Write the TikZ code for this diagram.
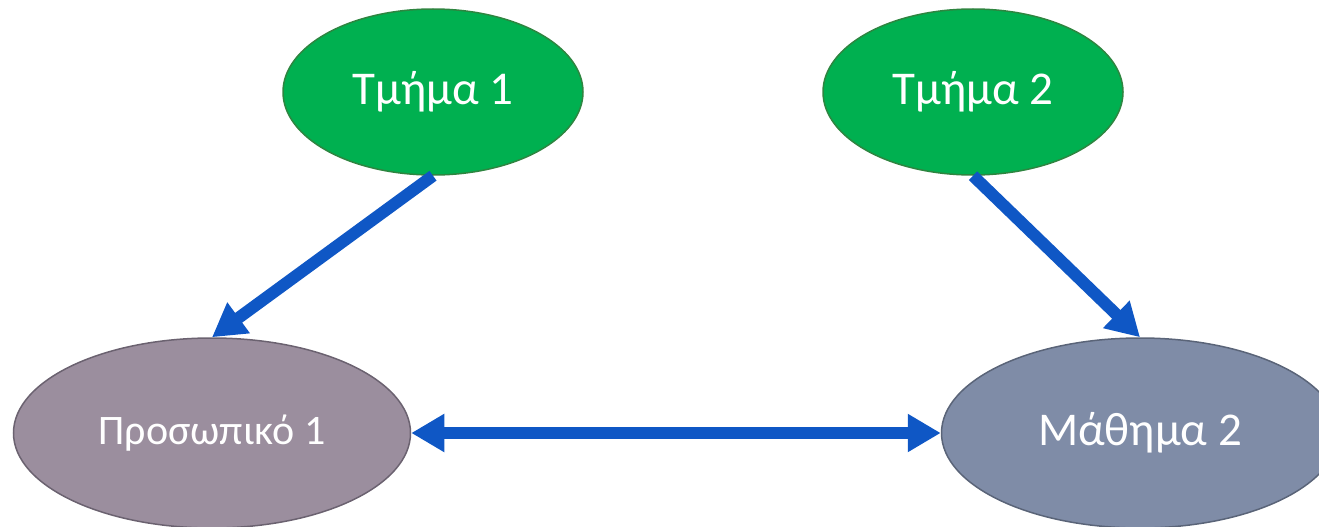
\documentclass[tikz,border=0pt]{standalone}
\usepackage{fontspec}
\setmainfont{Carlito}
\usetikzlibrary{arrows.meta,shapes.geometric}
\definecolor{deptgreen}{HTML}{00B050}
\definecolor{deptline}{HTML}{2E8540}
\definecolor{staffmauve}{HTML}{9B8E9E}
\definecolor{staffline}{HTML}{6B6270}
\definecolor{courseslate}{HTML}{7F8CA7}
\definecolor{courseline}{HTML}{5A6478}
\definecolor{linkblue}{HTML}{0F57C5}

\begin{document}
\begin{tikzpicture}[x=1pt,y=1pt]
\tikzstyle{entity}=[ellipse, draw, line width=1.5pt, inner sep=0pt, text=white]
\tikzstyle{dept}=[entity, draw=deptline, fill=deptgreen, minimum width=300pt, minimum height=166pt, font=\fontsize{47pt}{56pt}\selectfont]
\tikzstyle{link}=[draw, color=linkblue, line width=12pt, -{Triangle[length=33pt,width=36pt]}]
\tikzstyle{twoway}=[link, {Triangle[length=33pt,width=36pt]}-{Triangle[length=33pt,width=36pt]}]
\useasboundingbox (0,0) rectangle (1319,-527);
\node[dept] (t1) at (433,-92) {Τμήμα 1};
\node[dept] (t2) at (973,-92) {Τμήμα 2};
\node[entity, draw=staffline, fill=staffmauve, minimum width=397pt, minimum height=190pt, font=\fontsize{42pt}{50pt}\selectfont] (p1) at (212,-433) {Προσωπικό 1};
\node[entity, draw=courseline, fill=courseslate, minimum width=397pt, minimum height=190pt, font=\fontsize{47pt}{56pt}\selectfont] (m2) at (1140,-433) {Μάθημα 2};

\path
(t1.south) edge[link] (p1.north)
(t2.south) edge[link] (m2.north)
(p1.east) edge[twoway] (m2.west);
\end{tikzpicture}
\end{document}
